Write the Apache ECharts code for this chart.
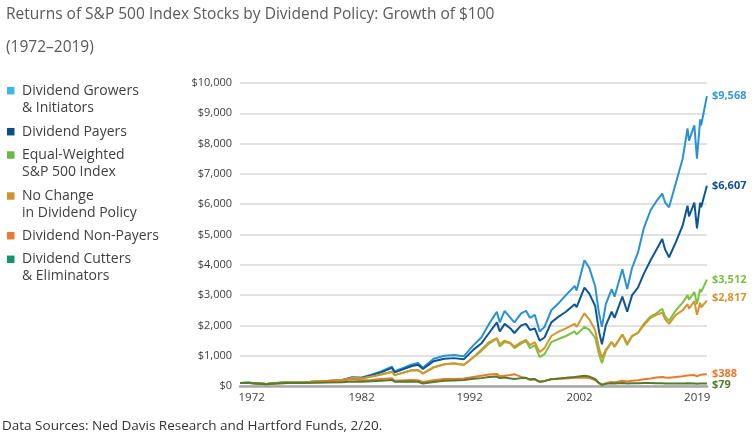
<!DOCTYPE html>
<html><head><meta charset="utf-8">
<script src="https://cdn.jsdelivr.net/npm/echarts@6/dist/echarts.min.js"></script>
<style>html,body{margin:0;padding:0;background:#fff}#c{width:756px;height:442px}</style>
</head><body><div id="c"></div>
<script>
const years = [1972.0, 1972.9, 1974.7, 1975.5, 1976.9, 1978.2, 1980.0, 1981.0, 1982.5, 1983.5,
  1984.5, 1985.5, 1986.5, 1987.6, 1987.9, 1989.6, 1990.3, 1990.8, 1991.9, 1993.0,
  1994.0, 1995.0, 1996.0, 1996.8, 1997.6, 1998.4, 1998.7, 1999.2, 1999.8, 2000.2,
  2000.9, 2001.4, 2001.8, 2002.3, 2002.8, 2003.3, 2004.0, 2004.8, 2005.5, 2006.4,
  2006.6, 2007.4, 2007.9, 2008.5, 2008.9, 2009.2, 2009.6, 2010.2, 2010.5, 2011.3,
  2011.8, 2012.3, 2012.9, 2013.5, 2014.2, 2014.8, 2015.4, 2015.7, 2016.1, 2016.8,
  2017.5, 2018.0, 2018.15, 2018.7, 2018.97, 2019.3, 2019.4, 2019.99];

const growers = [100, 110, 70, 95, 120, 115, 150, 165, 200, 290,
  280, 370, 480, 640, 480, 700, 760, 600, 900, 1000,
  1020, 980, 1350, 1600, 2050, 2450, 2100, 2480, 2250, 2100,
  2400, 2480, 2250, 2350, 1800, 1950, 2500, 2750, 3000, 3300,
  3150, 4150, 3900, 3300, 2400, 1950, 2700, 3200, 2950, 3850,
  3200, 3900, 4400, 5200, 5800, 6100, 6350, 6050, 5900, 6700,
  7500, 8500, 8100, 8600, 7500, 8800, 8600, 9568];

const payers = [100, 108, 68, 92, 118, 112, 145, 160, 190, 275,
  265, 350, 450, 600, 450, 650, 700, 560, 820, 900,
  920, 880, 1200, 1400, 1750, 2100, 1800, 2050, 1900, 1750,
  2000, 2050, 1850, 1900, 1500, 1600, 2100, 2300, 2450, 2700,
  2600, 3250, 3050, 2650, 1800, 1380, 2000, 2450, 2250, 2950,
  2450, 3000, 3250, 3700, 4150, 4500, 4850, 4500, 4250, 4750,
  5300, 5950, 5600, 6050, 5200, 6050, 5900, 6607];

const equalWeighted = [100, 105, 65, 90, 120, 115, 150, 165, 190, 260,
  245, 310, 380, 470, 360, 520, 530, 420, 620, 720,
  750, 700, 950, 1150, 1400, 1560, 1300, 1450, 1400, 1250,
  1400, 1480, 1250, 1350, 950, 1050, 1450, 1560, 1650, 1800,
  1700, 1950, 1850, 1600, 1050, 750, 1150, 1450, 1300, 1700,
  1350, 1650, 1750, 2050, 2300, 2400, 2550, 2300, 2150, 2500,
  2750, 3000, 2850, 3100, 2700, 3200, 3100, 3512];

const noChange = [100, 105, 68, 92, 122, 118, 155, 170, 195, 255,
  250, 310, 375, 460, 360, 510, 520, 410, 610, 720,
  740, 690, 950, 1200, 1450, 1580, 1380, 1500, 1420, 1300,
  1450, 1520, 1350, 1450, 1120, 1250, 1650, 1800, 1900, 2050,
  1950, 2400, 2200, 1850, 1250, 920, 1200, 1450, 1300, 1700,
  1400, 1650, 1750, 2000, 2250, 2350, 2420, 2200, 2050, 2350,
  2500, 2700, 2550, 2800, 2350, 2750, 2600, 2817];

const nonPayers = [100, 95, 55, 75, 95, 100, 140, 160, 170, 230,
  190, 200, 230, 260, 170, 200, 190, 130, 190, 230,
  230, 250, 300, 340, 380, 400, 320, 340, 360, 390,
  300, 260, 200, 220, 140, 170, 230, 240, 250, 270,
  250, 280, 260, 200, 90, 45, 90, 130, 120, 170,
  150, 170, 190, 220, 250, 280, 300, 280, 270, 300,
  320, 350, 340, 360, 320, 370, 360, 388];

const cutters = [100, 100, 60, 80, 100, 95, 110, 115, 120, 150,
  140, 160, 175, 200, 140, 150, 140, 80, 130, 170,
  180, 200, 240, 260, 300, 310, 260, 280, 250, 230,
  260, 270, 220, 230, 140, 160, 220, 250, 270, 300,
  290, 340, 310, 230, 100, 40, 70, 90, 85, 100,
  85, 90, 90, 95, 95, 90, 90, 85, 80, 85,
  85, 88, 82, 85, 72, 80, 78, 79];

const seriesNames = ['Dividend Growers\n& Initiators', 'Dividend Payers', 'Equal-Weighted\nS&P 500 Index',
  'No Change\nin Dividend Policy', 'Dividend Non-Payers', 'Dividend Cutters\n& Eliminators'];
const seriesValues = [growers, payers, equalWeighted, noChange, nonPayers, cutters];
const tickLabels = ['1972', '1982', '1992', '2002', '2019'];

const lineColors = ['#2b91d6', '#0d5694', '#7dc143', '#d6952c', '#e9792d', '#4f7d2b'];
const legendColors = ['#3cb9ea', '#0b4f88', '#6bb841', '#d4922f', '#ec7a2d', '#13956a'];
const labelColors = ['#3598da', '#10508c', '#7dbf45', '#d69430', '#e8782c', '#4f7d2b'];

const tickPos = [1973.2, 1984.5, 1995.6, 2006.9, 2019.0];
const legendTops = [82.2, 123.2, 146.5, 187.5, 227.2, 250.8];
const labelOffsets = [[0, 0], [0, 0], [0, 0], [0, -3], [0, 0], [0, 1]];
const FONT = 'Open Sans';
const TALL = 'path://M0,0L10,0L10,10L0,10Z M0,32.67L0,32.67';

const chart = echarts.init(document.getElementById('c'), null, {renderer: 'canvas'});
const fmt = v => '$' + Math.round(v).toLocaleString('en-US');

chart.setOption({
  animation: false,
  backgroundColor: '#fff',
  title: [
    {text: 'Returns of S&P 500 Index Stocks by Dividend Policy: Growth of $100', left: 6, top: 5, padding: 0,
     textStyle: {fontFamily: FONT, fontSize: 15.5, fontWeight: 'normal', color: '#5a5a5a', lineHeight: 20}},
    {text: '(1972\u20132019)', left: 6, top: 38, padding: 0,
     textStyle: {fontFamily: FONT, fontSize: 15.5, fontWeight: 'normal', color: '#5a5a5a', lineHeight: 20}},
    {text: 'Data Sources: Ned Davis Research and Hartford Funds, 2/20.', left: 2, top: 417, padding: 0,
     textStyle: {fontFamily: FONT, fontSize: 13.5, fontWeight: 'normal', color: '#333', lineHeight: 18}}
  ],
  legend: seriesNames.map((n, i) => {
    const two = n.indexOf('\n') >= 0;
    return {
      data: [{name: n, itemStyle: {color: legendColors[i], borderWidth: 0, borderColor: legendColors[i]}}],
      left: 7, top: legendTops[i], padding: 0, orient: 'vertical', selectedMode: false,
      icon: two ? TALL : 'rect', itemWidth: 7.5, itemHeight: two ? 24.5 : 7.5,
      textStyle: {fontFamily: FONT, fontSize: 14, lineHeight: 17, color: '#404040', padding: [0, 0, 0, 2.5]}
    };
  }),
  grid: {left: 240, right: 49, top: 83, bottom: 56, containLabel: false},
  xAxis: {
    type: 'value', min: 1972, max: 2020,
    axisLine: {show: true, onZero: true, lineStyle: {color: '#a8a8a8', width: 2.5}},
    axisTick: {show: false},
    splitLine: {show: false},
    axisLabel: {
      customValues: tickPos, margin: 6,
      fontFamily: FONT, fontSize: 11.5, color: '#404040',
      formatter: v => {
        let b = 0;
        tickPos.forEach((p, i) => { if (Math.abs(p - v) < Math.abs(tickPos[b] - v)) b = i; });
        return tickLabels[b];
      }
    }
  },
  yAxis: {
    type: 'value', min: 0, max: 10000, interval: 1000,
    axisLine: {show: false}, axisTick: {show: false},
    splitLine: {lineStyle: {color: '#d9d9d9', width: 1.5}},
    axisLabel: {fontFamily: FONT, fontSize: 11, color: '#404040', margin: 8, formatter: fmt}
  },
  series: seriesNames.map((n, i) => ({
    name: n, type: 'line', silent: true, symbol: 'none', showSymbol: false,
    color: lineColors[i],
    lineStyle: {width: 2, color: lineColors[i]},
    emphasis: {disabled: true},
    data: years.map((y, k) => [y, seriesValues[i][k]]),
    endLabel: {
      show: true, distance: 5, offset: labelOffsets[i],
      fontFamily: FONT, fontSize: 11, fontWeight: 'bold', color: labelColors[i],
      formatter: p => fmt(p.value[1])
    }
  }))
});
</script></body></html>
